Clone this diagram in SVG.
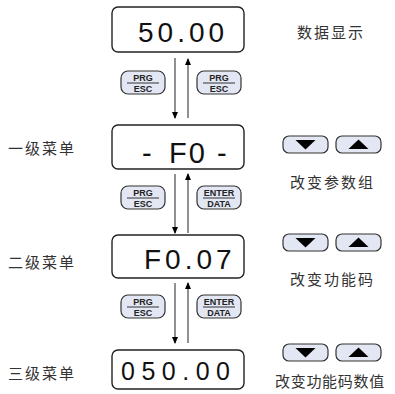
<svg xmlns="http://www.w3.org/2000/svg" width="395" height="394" viewBox="0 0 395 394">
<style>
.box{fill:#fff;stroke:#222;stroke-width:1.4}
.disp{font-family:"Liberation Sans",Arial,sans-serif;fill:#111}
.key{fill:#e2e7f3;stroke:#333;stroke-width:1.2}
.kt{font-family:"Liberation Sans",Arial,sans-serif;font-weight:bold;font-size:9px;fill:#222;text-anchor:middle}
.kl{stroke:#333;stroke-width:1}
.cn{font-family:"Noto Sans CJK SC",sans-serif;font-size:15px;fill:#333}
.ar{stroke:#555;stroke-width:1.3;fill:none}
.tri{fill:#000}
</style>
<defs>
<marker id="ah" markerWidth="8" markerHeight="8" refX="6" refY="4" orient="auto" markerUnits="userSpaceOnUse">
<path d="M0,1 L7,4 L0,7 Z" fill="#000"/>
</marker>
<g id="prg">
<rect class="key" x="0" y="0" width="44" height="23" rx="7"/>
<line class="kl" x1="6" y1="12" x2="38" y2="12"/>
<text class="kt" x="22" y="10">PRG</text>
<text class="kt" x="22" y="20.5">ESC</text>
</g>
<g id="ent">
<rect class="key" x="0" y="0" width="44" height="23" rx="7"/>
<line class="kl" x1="6" y1="12" x2="38" y2="12"/>
<text class="kt" x="22" y="10">ENTER</text>
<text class="kt" x="22" y="20.5">DATA</text>
</g>
<g id="dn">
<rect class="key" x="0" y="0" width="45" height="17" rx="6"/>
<path class="tri" d="M12.5,4 L32.5,4 L22.5,13.5 Z"/>
</g>
<g id="up">
<rect class="key" x="0" y="0" width="45" height="17" rx="6"/>
<path class="tri" d="M12.5,13 L32.5,13 L22.5,3.5 Z"/>
</g>
</defs>

<g id="connectors">
<line class="ar" x1="175" y1="58" x2="175" y2="118" marker-end="url(#ah)"/>
<line class="ar" x1="188" y1="118" x2="188" y2="59" marker-end="url(#ah)"/>
<line class="ar" x1="175" y1="174" x2="175" y2="233" marker-end="url(#ah)"/>
<line class="ar" x1="188" y1="233" x2="188" y2="174" marker-end="url(#ah)"/>
<line class="ar" x1="175" y1="283" x2="175" y2="343" marker-end="url(#ah)"/>
<line class="ar" x1="188" y1="343" x2="188" y2="283" marker-end="url(#ah)"/>
</g>

<g id="disp1">
<rect class="box" x="112" y="7" width="132" height="45" rx="6"/>
<text class="disp" x="138" y="42" font-size="28" letter-spacing="4">50.00</text>
</g>
<g id="disp2">
<rect class="box" x="112" y="125" width="132" height="44" rx="6"/>
<text class="disp" x="142" y="163" font-size="29">-</text>
<text class="disp" x="169" y="163" font-size="29" letter-spacing="2">F0</text>
<text class="disp" x="217" y="163" font-size="29">-</text>
</g>
<g id="disp3">
<rect class="box" x="112" y="235" width="132" height="43" rx="6"/>
<text class="disp" x="144" y="269" font-size="28" letter-spacing="4">F0.07</text>
</g>
<g id="disp4">
<rect class="box" x="112" y="350" width="132" height="39" rx="6"/>
<text class="disp" x="121" y="380" font-size="25" letter-spacing="6.5">050.00</text>
</g>

<g id="keys1">
<use href="#prg" x="121" y="71"/>
<use href="#prg" x="197" y="71"/>
</g>
<g id="keys2">
<use href="#prg" x="121" y="186"/>
<use href="#ent" x="197" y="186"/>
</g>
<g id="keys3">
<use href="#prg" x="121" y="295"/>
<use href="#ent" x="197" y="295"/>
</g>

<g id="updown1">
<use href="#dn" x="283" y="136"/>
<use href="#up" x="336" y="136"/>
</g>
<g id="updown2">
<use href="#dn" x="283" y="234"/>
<use href="#up" x="336" y="234"/>
</g>
<g id="updown3">
<use href="#dn" x="283" y="344"/>
<use href="#up" x="336" y="344"/>
</g>

<g id="labels">
<text class="cn" x="297" y="38" letter-spacing="2">数据显示</text>
<text class="cn" x="8" y="154" letter-spacing="2">一级菜单</text>
<text class="cn" x="8" y="268" letter-spacing="2">二级菜单</text>
<text class="cn" x="8" y="379" letter-spacing="2">三级菜单</text>
<text class="cn" x="290" y="188" letter-spacing="2">改变参数组</text>
<text class="cn" x="290" y="285" letter-spacing="2">改变功能码</text>
<text class="cn" x="275" y="387" letter-spacing="0.7">改变功能码数值</text>
</g>
</svg>
